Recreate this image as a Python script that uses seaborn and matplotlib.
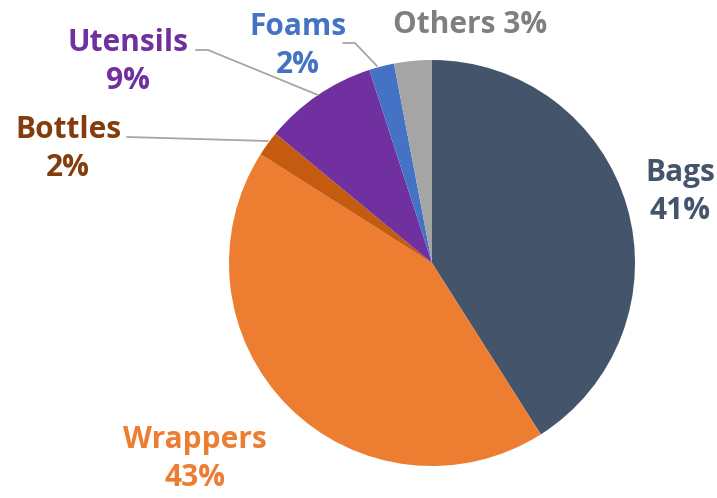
import matplotlib
matplotlib.use("Agg")
import matplotlib.pyplot as plt
import seaborn as sns
import numpy as np

sns.set_theme(style="white")
plt.rcParams['font.family'] = ['Open Sans', 'DejaVu Sans']

categories = ["Bags", "Wrappers", "Bottles", "Utensils", "Foams", "Others"]
values = [41, 43, 2, 9, 2, 3]
slice_colors = ["#44546A", "#ED7D31", "#C55A11", "#7030A0", "#4472C4", "#A5A5A5"]
label_colors = ["#44546A", "#ED7D31", "#843C0C", "#7030A0", "#4472C4", "#7F7F7F"]

W, H = 717, 498
fig = plt.figure(figsize=(W / 100, H / 100), dpi=100)
ax = fig.add_axes([0, 0, 1, 1])

cx, cy, R = 432, 263, 203
wedges, _ = ax.pie(values, colors=slice_colors, startangle=90, counterclock=False,
                   radius=1.0, wedgeprops=dict(linewidth=0))
ax.set_aspect('auto')
ax.set_xlim(-cx / R, (W - cx) / R)
ax.set_ylim(-(H - cy) / R, cy / R)
ax.axis('off')

def px(x, y):
    return ((x - cx) / R, (cy - y) / R)

labels_pos = {
    "Bags": (680, 192),
    "Wrappers": (195, 459),
    "Bottles": (68, 149),
    "Utensils": (128, 62),
    "Foams": (298, 46),
}
fs = 21.5
for cat, val, lc in zip(categories, values, label_colors):
    if cat == "Others":
        ax.text(*px(470, 25), f"{cat} {val}%", color=lc, fontsize=fs,
                fontweight='bold', ha='center', va='center')
    else:
        x, y = labels_pos[cat]
        ax.text(*px(x, y), f"{cat}\n{val}%", color=lc, fontsize=fs,
                fontweight='bold', ha='center', va='center', linespacing=1.38)

line_kw = dict(color="#A6A6A6", lw=1.3)
for pts in [[(196, 50), (208, 50), (318, 95)],
            [(127, 137), (268, 141)],
            [(343, 43), (355, 43), (377, 66)]]:
    xs, ys = zip(*[px(*p) for p in pts])
    ax.plot(xs, ys, **line_kw)

fig.savefig("out.png", dpi=100)
